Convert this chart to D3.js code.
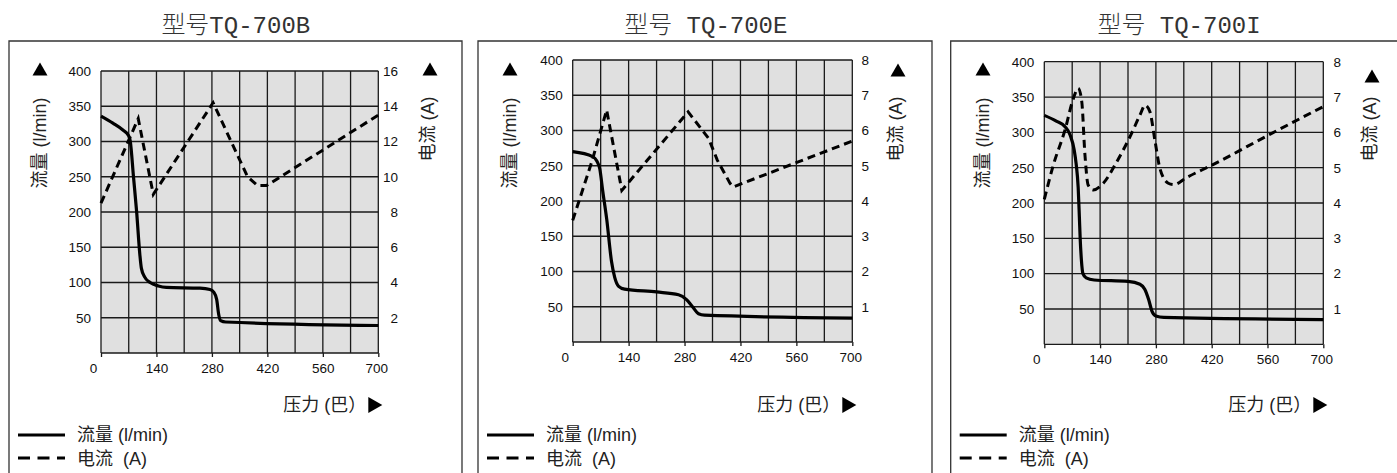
<!DOCTYPE html>
<html><head><meta charset="utf-8">
<script src="https://cdn.jsdelivr.net/npm/d3@7"></script>
<style>
html,body{margin:0;padding:0;background:#fff;}
svg{display:block;}
</style></head>
<body>
<svg id="chart" width="1397" height="473"></svg>
<script>
// ---------------- data ----------------
const pressureTicks = [0, 140, 280, 420, 560, 700];
const flowTicks = [50, 100, 150, 200, 250, 300, 350, 400];
const currentTicksB = [2, 4, 6, 8, 10, 12, 14, 16];
const currentTicksEI = [1, 2, 3, 4, 5, 6, 7, 8];
const titles = ["型号TQ-700B", "型号 TQ-700E", "型号 TQ-700I"];

// [pressure (bar), flow (l/min)]
const flowB = [[0,336],[30,326],[56,316],[69,309],[74,300],[82,250],[90,200],[98,140],[102,120],[110,108],[124,100],[145,95],[165,93],[250,92],[275,90],[285,86],[292,76],[297,55],[302,46],[315,44],[700,39]];
const flowE = [[0,270],[50,263],[60,257],[68,245],[75,215],[85,175],[97,115],[105,92],[115,79],[130,75],[210,71],[265,67],[285,60],[300,50],[315,40],[330,38],[700,34]];
const flowI = [[0,324],[30,316],[52,308],[65,296],[75,275],[80,255],[85,222],[88,180],[90,150],[93,120],[97,100],[105,94],[125,91],[210,89],[240,85],[252,78],[262,63],[270,47],[280,40],[300,38],[700,35]];

// [pressure (bar), current (A)]
const currentB = [[0,8.5],[94,13.3],[132,9.0],[283,14.2],[370,10.0],[395,9.5],[418,9.5],[700,13.5]];
const currentE = [[0,3.45],[48,5.12],[85,6.58],[123,4.3],[289,6.53],[340,5.78],[362,5.16],[394,4.5],[402,4.4],[700,5.7]];
const currentI = [[0,4.1],[22,5.05],[52,6.07],[73,6.96],[85,7.25],[94,6.87],[102,5.36],[110,4.51],[123,4.37],[148,4.56],[182,5.17],[219,5.97],[240,6.49],[253,6.77],[265,6.58],[278,5.74],[290,4.98],[311,4.56],[325,4.52],[357,4.72],[422,5.08],[562,5.92],[700,6.73]];

const flowMax = 400;
const currentMaxB = 16, currentMaxEI = 8;

// ---------------- layout ----------------
const panels = [
  {title:titles[0], box:{l:9, r:462, t:41}, plot:{l:101, r:378.3, t:71, b:353}, titleX:235.8,
   curMax:currentMaxB, curTicks:currentTicksB, flow:flowB, cur:currentB, curCurve:d3.curveLinear,
   leftLblX:40, rightLblX:428, rightTriY:69, rightTickEnd:398},
  {title:titles[1], box:{l:478, r:932, t:41}, plot:{l:572.7, r:852.3, t:60, b:342}, titleX:705.8,
   curMax:currentMaxEI, curTicks:currentTicksEI, flow:flowE, cur:currentE, curCurve:d3.curveLinear,
   leftLblX:510, rightLblX:896, rightTriY:70, rightTickEnd:869},
  {title:titles[2], box:{l:950.7, r:1400, t:41}, plot:{l:1044.3, r:1323.3, t:61.7, b:344.3}, titleX:1179,
   curMax:currentMaxEI, curTicks:currentTicksEI, flow:flowI, cur:currentI, curCurve:d3.curveMonotoneX,
   leftLblX:983, rightLblX:1370, rightTriY:76, rightTickEnd:1341}
];

const svg = d3.select("#chart");
const SANS = "'Liberation Sans', Arial, sans-serif";
const CJK = "'Liberation Sans', 'Noto Sans CJK SC', sans-serif";
const TITLE = "'Liberation Mono', 'Noto Sans CJK SC', monospace";
const gridColor = "#1a1a1a";

function triUp(g, cx, cy, w, h){
  g.append("path").attr("d", `M${cx-w/2},${cy+h/2}L${cx+w/2},${cy+h/2}L${cx},${cy-h/2}Z`).attr("fill","#000");
}
function triRight(g, cx, cy, w, h){
  g.append("path").attr("d", `M${cx-w/2},${cy-h/2}L${cx+w/2},${cy}L${cx-w/2},${cy+h/2}Z`).attr("fill","#000");
}

panels.forEach(p => {
  const g = svg.append("g");
  const P = p.plot;
  const x = d3.scaleLinear().domain([0,700]).range([P.l, P.r]);
  const yF = d3.scaleLinear().domain([0,flowMax]).range([P.b, P.t]);
  const yC = d3.scaleLinear().domain([0,p.curMax]).range([P.b, P.t]);

  // title
  g.append("text").attr("x", p.titleX).attr("y", 33).attr("text-anchor","middle")
    .attr("font-family", TITLE).attr("font-size", 24).attr("font-weight", 300).attr("fill","#333").text(p.title);

  // panel border (open at bottom)
  g.append("path").attr("d", `M${p.box.l},480V${p.box.t}H${p.box.r}V480`)
    .attr("fill","none").attr("stroke","#333").attr("stroke-width",1.3);

  // plot background
  g.append("rect").attr("x",P.l).attr("y",P.t).attr("width",P.r-P.l).attr("height",P.b-P.t).attr("fill","#e0e0e0");

  // grid
  const gx = d3.range(0, 701, 70);
  const gy = d3.range(0, 401, 50);
  g.append("g").selectAll("line").data(gx).join("line")
    .attr("x1", d=>x(d)).attr("x2", d=>x(d)).attr("y1", P.t).attr("y2", P.b)
    .attr("stroke", gridColor).attr("stroke-width", 1.3);
  g.append("g").selectAll("line").data(gy).join("line")
    .attr("x1", P.l).attr("x2", P.r).attr("y1", d=>yF(d)).attr("y2", d=>yF(d))
    .attr("stroke", gridColor).attr("stroke-width", 1.3);

  // x axis
  const ax = g.append("g").attr("transform", `translate(0,${P.b})`)
    .call(d3.axisBottom(x).tickValues(pressureTicks).tickSize(4).tickPadding(6).tickFormat(d3.format("d")));
  ax.select(".domain").remove();
  ax.selectAll(".tick line").attr("stroke", gridColor).attr("stroke-width",1.3);
  ax.selectAll(".tick text").attr("font-family", SANS).attr("font-size", 13.5).attr("fill","#111")
    .attr("dx", d => d === 0 ? -8 : (d === 700 ? -2 : 0));

  // left axis
  const al = g.append("g").attr("transform", `translate(${P.l},0)`)
    .call(d3.axisLeft(yF).tickValues(flowTicks).tickSize(0).tickPadding(10));
  al.select(".domain").remove();
  al.selectAll(".tick text").attr("font-family", SANS).attr("font-size", 13.5).attr("fill","#111");

  // right axis (end-anchored)
  const ar = g.append("g").attr("transform", `translate(${p.rightTickEnd},0)`)
    .call(d3.axisRight(yC).tickValues(p.curTicks).tickSize(0).tickPadding(0));
  ar.select(".domain").remove();
  ar.selectAll(".tick text").attr("text-anchor","end").attr("font-family", SANS).attr("font-size", 13.5).attr("fill","#111");

  // lines
  const lineF = d3.line().x(d=>x(d[0])).y(d=>yF(d[1])).curve(d3.curveMonotoneX);
  const lineC = d3.line().x(d=>x(d[0])).y(d=>yC(d[1])).curve(p.curCurve);
  g.append("path").datum(p.cur).attr("d", lineC).attr("fill","none").attr("stroke","#000")
    .attr("stroke-width",3).attr("stroke-dasharray","8,5");
  g.append("path").datum(p.flow).attr("d", lineF).attr("fill","none").attr("stroke","#000")
    .attr("stroke-width",3.2).attr("stroke-linejoin","round");

  // left axis label
  triUp(g, p.leftLblX, 69, 15, 13);
  g.append("text").attr("transform", `translate(${p.leftLblX},143) rotate(-90)`)
    .attr("text-anchor","middle").attr("dominant-baseline","central")
    .attr("font-family", CJK).attr("font-size", 18).attr("fill","#222").text("流量 (l/min)");

  // right axis label
  triUp(g, p.rightLblX+2, p.rightTriY, 15, 13);
  g.append("text").attr("transform", `translate(${p.rightLblX},129) rotate(-90)`)
    .attr("text-anchor","middle").attr("dominant-baseline","central")
    .attr("font-family", CJK).attr("font-size", 18).attr("fill","#222").text("电流 (A)");

  // x axis title
  triRight(g, P.r - 3, 405, 14, 16);
  g.append("text").attr("x", P.r - 12).attr("y", 411).attr("text-anchor","end")
    .attr("font-family", CJK).attr("font-size", 18).attr("fill","#222").text("压力 (巴）");

  // legend
  const lx = p.box.l + 9;
  g.append("line").attr("x1", lx).attr("x2", lx+47).attr("y1", 435).attr("y2", 435)
    .attr("stroke","#000").attr("stroke-width",3);
  g.append("text").attr("x", lx+59).attr("y", 441).attr("font-family", CJK).attr("font-size",18)
    .attr("fill","#222").text("流量 (l/min)");
  g.append("line").attr("x1", lx).attr("x2", lx+47).attr("y1", 458).attr("y2", 458)
    .attr("stroke","#000").attr("stroke-width",3).attr("stroke-dasharray","12,7.5");
  g.append("text").attr("x", lx+59).attr("y", 465).attr("font-family", CJK).attr("font-size",18)
    .attr("fill","#222").attr("xml:space","preserve").text("电流  (A)");
});
</script>
</body></html>
